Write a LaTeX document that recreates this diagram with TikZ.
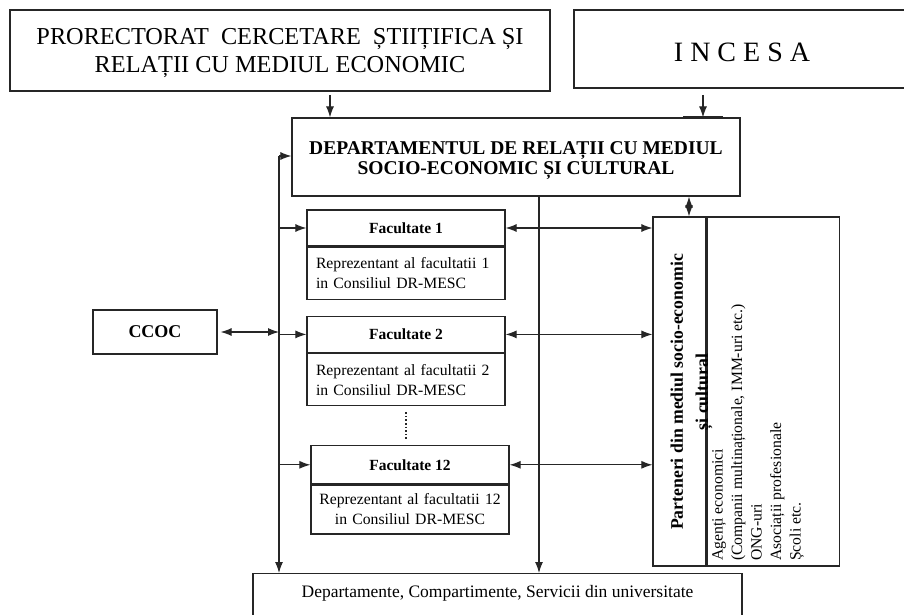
\documentclass[tikz,border=0pt]{standalone}
\usepackage{fontspec}
\setmainfont{Liberation Serif}
\usetikzlibrary{positioning,arrows.meta}

\tikzset{
  box/.style={draw=black!85, line width=1.2pt, inner sep=0pt},
  tip/.tip={Latex[length=11pt,width=8pt]},
  oneway/.style={draw=black!85, line width=1.1pt, -tip},
  twoway/.style={draw=black!85, line width=1.1pt, tip-tip},
  facname/.style={box, minimum width=198pt, minimum height=36pt, font=\bfseries\fontsize{15.5}{18}\selectfont},
  facbody/.style={box, minimum width=198pt, minimum height=52pt, text width=180pt, align=left, font=\fontsize{15.7}{20}\selectfont},
}

\begin{document}
\begin{tikzpicture}[x=1pt, y=-1pt]
  \useasboundingbox (0,0) rectangle (904,615);

  % upper level
  \node [box, minimum width=540pt, minimum height=81pt] (pr) at (280,50.5) {};
  \node [align=center, font=\fontsize{24.3}{28}\selectfont] (prtext) at ([yshift=-3pt]pr.center)
    {PRORECTORAT\ \ CERCETARE\ \ ȘTIIȚIFICA ȘI\\RELAȚII CU MEDIUL ECONOMIC};
  \node [box, minimum width=336pt, minimum height=78pt] (inc) at (742,49) {};
  \node [font=\fontsize{28}{30}\selectfont] (inctext) at ([yshift=-3pt]inc.center) {I N C E S A};
  \node [box, minimum width=448pt, minimum height=78pt] (dr) at (516,157) {};
  \node [align=center, font=\bfseries\fontsize{19.5}{20}\selectfont] (drtext) at ([yshift=-4pt]dr.center)
    {DEPARTAMENTUL DE RELAȚII CU MEDIUL\\SOCIO-ECONOMIC ȘI CULTURAL};

  % faculties
  \node [facname] (f1t) at (406,228) {Facultate 1};
  \node [facbody, below=0pt of f1t] (f1b) {Reprezentant al facultatii 1\\in Consiliul DR-MESC};
  \node [facname, below=16pt of f1b] (f2t) {Facultate 2};
  \node [facbody, below=0pt of f2t] (f2b) {Reprezentant al facultatii 2\\in Consiliul DR-MESC};
  \node [facname, minimum height=38pt, below=39pt of f2b, xshift=4pt] (f12t) {Facultate 12};
  \node [facbody, minimum height=49pt, text width=190pt, align=center, below=0pt of f12t] (f12b) {Reprezentant al facultatii 12\\in Consiliul DR-MESC};
  \draw [dotted, line width=1.6pt, black!85] ([yshift=-6pt]f2b.south) -- ([yshift=6pt]f2b.south |- f12t.north);

  \node [box, minimum width=124pt, minimum height=44pt, font=\bfseries\fontsize{18}{20}\selectfont] (ccoc) at (155,332) {CCOC};

  % partners
  \node [box, minimum width=53pt, minimum height=349pt] (pa) at (679.5,391.5) {};
  \node [box, minimum width=132pt, minimum height=349pt, right=0pt of pa] (pb) {};
  \node [rotate=90, align=center, font=\bfseries\fontsize{17.7}{25}\selectfont] (pat) at (691.5,392)
    {Parteneri din mediul socio-economic\\și cultural};
  \node [rotate=90, anchor=north west, align=left, inner sep=0pt, font=\fontsize{15.7}{19.5}\selectfont] (pbt) at (712,561)
    {Agenți economici\\(Companii multinaționale, IMM-uri etc.)\\ONG-uri\\Asociații profesionale\\Școli etc.};

  \node [box, anchor=north, minimum width=489pt, text height=24pt, text depth=30pt, font=\fontsize{17.5}{20}\selectfont] (univ) at (497.5,573)
    {Departamente, Compartimente, Servicii din universitate};

  % connectors
  \coordinate (prout) at (330,95);
  \coordinate (incout) at (703,95);
  \coordinate (sp) at (279,156);
  \coordinate (dn) at (539,0);
  \coordinate (up) at (689,0);

  \draw [oneway] (prout) -- (prout |- dr.north);
  \draw [oneway] (incout) -- (incout |- dr.north);
  \draw [line width=1.8pt, black!85] ([xshift=-20pt]incout |- dr.north) -- ([xshift=20pt]incout |- dr.north);
  \draw [oneway] (sp) -- (sp -| dr.west);
  \draw [oneway] (sp) -- (sp |- univ.north);
  \draw [oneway] (dr.south -| dn) -- (univ.north -| dn);
  \draw [twoway] (dr.south -| up) -- (pa.north -| up);
  \foreach \f in {f1t,f2t,f12t} {
    \draw [oneway] (sp |- \f.west) -- (\f.west);
    \draw [twoway] (\f.east) -- (pa.west |- \f.east);
  }
  \draw [twoway, shorten <=3pt] (ccoc.east) -- (sp |- ccoc.east);
\end{tikzpicture}
\end{document}
